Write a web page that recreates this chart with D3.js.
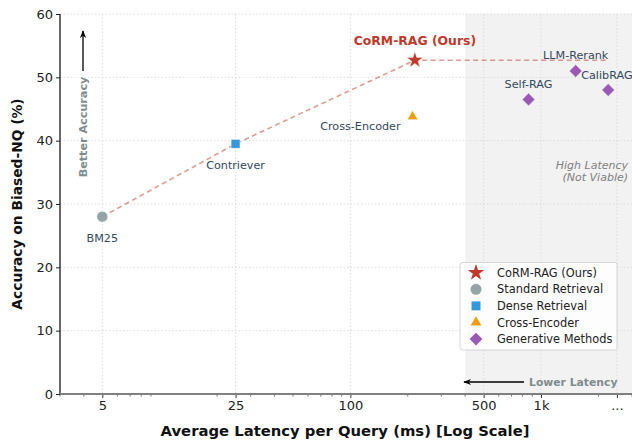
<!DOCTYPE html>
<html><head><meta charset="utf-8">
<script src="https://cdn.jsdelivr.net/npm/d3@7"></script>
<style>
html,body{margin:0;padding:0;background:#fff;}
svg{display:block;font-family:"DejaVu Sans",sans-serif;}
</style></head>
<body><svg id="chart" width="632" height="442"></svg>
<script>
// ---- data ----
const methods  = ["BM25","Contriever","Cross-Encoder","CoRM-RAG (Ours)","Self-RAG","LLM-Rerank","CalibRAG"];
const latency  = [5, 25, 212, 218, 860, 1520, 2250];
const accuracy = [28, 39.5, 43.8, 52.7, 46.5, 51.0, 48.0];
const groupOf  = ["Standard Retrieval","Dense Retrieval","Cross-Encoder","CoRM-RAG (Ours)","Generative Methods","Generative Methods","Generative Methods"];
const legendGroups = ["CoRM-RAG (Ours)","Standard Retrieval","Dense Retrieval","Cross-Encoder","Generative Methods"];
const frontier = ["BM25","Contriever","CoRM-RAG (Ours)"];
const xTickValues = [5, 25, 100, 500, 1000, 2500];
const xTickLabels = ["5","25","100","500","1k","..."];
const yTickValues = [0,10,20,30,40,50,60];
const xDomain = [3, 3000];
const yDomain = [0, 60];
const highLatencyStart = 400;

// ---- styles ----
const groupStyle = {
  "CoRM-RAG (Ours)":   {color:"#c0392b", sym:d3.symbolStar,   size:85,  rot:0},
  "Standard Retrieval":{color:"#95a5a6", sym:d3.symbolCircle, size:95,  rot:0},
  "Dense Retrieval":   {color:"#3498db", sym:d3.symbolSquare, size:80,  rot:0},
  "Cross-Encoder":     {color:"#f39c12", sym:d3.symbolTriangle,size:50, rot:0},
  "Generative Methods":{color:"#9b59b6", sym:d3.symbolSquare, size:82,  rot:45}
};
// label offsets [dx, dy, anchor]
const labelPos = {
  "BM25":[0,22,"middle"], "Contriever":[0,22,"middle"], "Cross-Encoder":[-12,10,"end"],
  "CoRM-RAG (Ours)":[0,-20,"middle"], "Self-RAG":[0,-15,"middle"],
  "LLM-Rerank":[0,-16,"middle"], "CalibRAG":[-27,-15,"start"]
};

const svg = d3.select("#chart");
const L = 60, R = 632, T = 14, B = 394;
const x = d3.scaleLog().domain(xDomain).range([L, R]);
const y = d3.scaleLinear().domain(yDomain).range([B, T]);

svg.append("defs").append("marker").attr("id","ah").attr("viewBox","0 0 10 10")
  .attr("refX",9).attr("refY",5).attr("markerWidth",6).attr("markerHeight",6).attr("orient","auto")
  .append("path").attr("d","M0,1 L10,5 L0,9 L3,5 Z").attr("fill","#000");

// shaded region
svg.append("rect").attr("x", x(highLatencyStart)).attr("y", T)
  .attr("width", R - x(highLatencyStart)).attr("height", B - T).attr("fill","#f2f2f2");

// grid
const g = svg.append("g");
g.selectAll(".gy").data(yTickValues.slice(1)).join("line")
  .attr("x1",L).attr("x2",R).attr("y1",d=>y(d)).attr("y2",d=>y(d))
  .attr("stroke","#d5d5d5").attr("stroke-width",0.8).attr("stroke-dasharray","1.5,2");
g.selectAll(".gx").data(xTickValues).join("line")
  .attr("x1",d=>x(d)).attr("x2",d=>x(d)).attr("y1",T).attr("y2",B)
  .attr("stroke","#d5d5d5").attr("stroke-width",0.8).attr("stroke-dasharray","1.5,2");

// y axis
const yAxis = svg.append("g").attr("transform",`translate(${L},0)`)
  .call(d3.axisLeft(y).tickValues(yTickValues).tickSize(4).tickPadding(3));
yAxis.select(".domain").attr("stroke","#000").attr("stroke-width",1.2).attr("d",`M0,${T}V${B}`);
yAxis.selectAll("text").attr("font-size",13).attr("fill","#222").attr("font-family","DejaVu Sans");
yAxis.selectAll(".tick line").attr("stroke","#222");

// x axis: minor ticks
const minor = [];
[1,10,100,1000].forEach(p=>{for(let k=2;k<=9;k++){const v=k*p; if(v>=xDomain[0]&&v<=xDomain[1]&&!xTickValues.includes(v)) minor.push(v);}});
svg.append("g").selectAll("line").data(minor).join("line")
  .attr("x1",d=>x(d)).attr("x2",d=>x(d)).attr("y1",B).attr("y2",B+2.5)
  .attr("stroke","#333").attr("stroke-width",0.7);
const xAxis = svg.append("g").attr("transform",`translate(0,${B})`)
  .call(d3.axisBottom(x).tickValues(xTickValues).tickFormat((d,i)=>xTickLabels[i]).tickSize(4).tickPadding(3));
xAxis.select(".domain").remove();
xAxis.selectAll("text").attr("font-size",13).attr("fill","#222").attr("font-family","DejaVu Sans");
xAxis.selectAll(".tick line").attr("stroke","#333");
svg.append("line").attr("x1",L).attr("x2",R).attr("y1",B).attr("y2",B)
  .attr("stroke","#7f7f7f").attr("stroke-width",2);

// frontier line
const idx = n => methods.indexOf(n);
const fPts = frontier.map(n=>[latency[idx(n)], accuracy[idx(n)]]);
fPts.push([latency[idx("CalibRAG")], accuracy[idx("CoRM-RAG (Ours)")]]);
svg.append("path").attr("d", d3.line().x(d=>x(d[0])).y(d=>y(d[1]))(fPts))
  .attr("fill","none").attr("stroke","#c0392b").attr("stroke-opacity",0.5)
  .attr("stroke-width",1.6).attr("stroke-dasharray","5,3.5");

// annotations
svg.append("text").attr("x",628).attr("y",165).attr("text-anchor","end").attr("dominant-baseline","central")
  .attr("font-size",11).attr("font-style","italic").attr("fill","#808080").text("High Latency");
svg.append("text").attr("x",628).attr("y",177.5).attr("text-anchor","end").attr("dominant-baseline","central")
  .attr("font-size",11).attr("font-style","italic").attr("fill","#808080").text("(Not Viable)");

svg.append("line").attr("x1",83).attr("y1",71).attr("x2",83).attr("y2",31)
  .attr("stroke","#000").attr("stroke-width",1.3).attr("marker-end","url(#ah)");
svg.append("text").attr("transform","translate(83,127) rotate(-90)").attr("text-anchor","middle")
  .attr("dominant-baseline","central").attr("font-size",11.2).attr("font-weight","bold")
  .attr("fill","#7f8c8d").text("Better Accuracy");
svg.append("line").attr("x1",524).attr("y1",382).attr("x2",464).attr("y2",382)
  .attr("stroke","#000").attr("stroke-width",1.3).attr("marker-end","url(#ah)");
svg.append("text").attr("x",529).attr("y",382).attr("dominant-baseline","central")
  .attr("font-size",10.8).attr("font-weight","bold").attr("fill","#7f8c8d").text("Lower Latency");

// points
const sym = (grp)=>{const s=groupStyle[grp]; return d3.symbol().type(s.sym).size(s.size)();};
svg.append("g").selectAll("path").data(methods).join("path")
  .attr("d",(d,i)=>sym(groupOf[i]))
  .attr("transform",(d,i)=>`translate(${x(latency[i])},${y(accuracy[i])}) rotate(${groupStyle[groupOf[i]].rot})`)
  .attr("fill",(d,i)=>groupStyle[groupOf[i]].color)
  .attr("stroke","#fff").attr("stroke-width",0.5);

// point labels
svg.append("g").selectAll("text").data(methods).join("text")
  .attr("x",(d,i)=>x(latency[i])+labelPos[d][0])
  .attr("y",(d,i)=>y(accuracy[i])+labelPos[d][1])
  .attr("text-anchor",d=>labelPos[d][2]).attr("dominant-baseline","central")
  .attr("font-size",d=>d==="CoRM-RAG (Ours)"?12.4:11.2)
  .attr("font-weight",d=>d==="CoRM-RAG (Ours)"?"bold":"normal")
  .attr("fill",d=>d==="CoRM-RAG (Ours)"?"#c0392b":"#34495e")
  .text(d=>d);

// legend
const lg = svg.append("g");
lg.append("rect").attr("x",460).attr("y",262.5).attr("width",157).attr("height",87.5).attr("rx",2.5)
  .attr("fill","#fff").attr("fill-opacity",0.85).attr("stroke","#cccccc").attr("stroke-width",0.8);
legendGroups.forEach((grp,i)=>{
  const yy = 272.7 + i*16.6;
  const s = groupStyle[grp];
  lg.append("path").attr("d",sym(grp)).attr("transform",`translate(476,${yy}) rotate(${s.rot})`)
    .attr("fill",s.color);
  lg.append("text").attr("x",497).attr("y",yy).attr("dominant-baseline","central")
    .attr("font-size",11.4).attr("fill","#222").text(grp);
});

// axis titles
svg.append("text").attr("x",345).attr("y",430).attr("text-anchor","middle").attr("dominant-baseline","central")
  .attr("font-size",14.8).attr("font-weight","bold").attr("fill","#111")
  .text("Average Latency per Query (ms) [Log Scale]");
svg.append("text").attr("transform","translate(17,204) rotate(-90)").attr("text-anchor","middle")
  .attr("dominant-baseline","central").attr("font-size",13.8).attr("font-weight","bold").attr("fill","#111")
  .text("Accuracy on Biased-NQ (%)");
</script></body></html>
